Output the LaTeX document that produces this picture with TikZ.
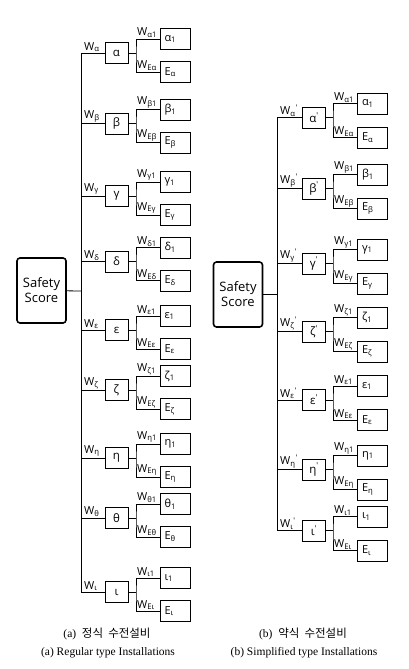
\documentclass[tikz,border=0pt]{standalone}
\usepackage{fontspec}
\setmainfont{Liberation Serif}
\newfontfamily\diagfont{Open Sans}
\newfontfamily\krfont{Noto Sans CJK KR}
\usetikzlibrary{positioning}

\begin{document}
\begin{tikzpicture}[x=1pt, y=-1pt, line width=0.8pt,
	mainbox/.style={rectangle,draw,line width=1pt,minimum width=23,minimum height=21,inner sep=0pt,font=\diagfont\fontsize{11.5}{13}\selectfont},
	subbox/.style={rectangle,draw,line width=1pt,text width=21pt,inner xsep=4.5pt,inner ysep=0pt,minimum height=21,align=left,font=\diagfont\fontsize{11}{13}\selectfont},
	wlab/.style={anchor=south west,inner sep=0.8pt,font=\diagfont\fontsize{11}{13}\selectfont},
	scorebox/.style={rectangle,draw,rounded corners=3pt,line width=1.6pt,minimum width=49,minimum height=65,align=center,inner sep=0pt,font=\diagfont\fontsize{13}{15}\selectfont},
	capt/.style={font=\fontsize{11.5}{13}\selectfont}]
		\useasboundingbox (0,0) rectangle (408,669);

		% (a) regular type
		\node[scorebox] (ssa) at (41.5,290.5) {Safety\\Score};
		\coordinate (tra) at (81,291);
		\foreach \n/\g/\y in {1/α/53, 2/β/123.5, 3/γ/196, 4/δ/261.5, 5/ε/330, 6/ζ/390, 7/η/458, 8/θ/518, 9/ι/592} {
			\node[mainbox] (a\n) at (116.5,\y) {\g};
			\node[subbox] (a\n-t) at (175,\y-14) {\g\textsubscript{1}};
			\node[subbox] (a\n-e) at (175,\y+19) {E\textsubscript{\g}};
			\coordinate (a\n-j) at (136,\y);
			\draw (tra |- a\n) -- (a\n.west);
			\draw (a\n.east) -- (a\n-j);
			\draw (a\n-t.west) -| (a\n-j) |- (a\n-e.west);
			\node[wlab,xshift=2] (a\n-w) at (tra |- a\n) {W\textsubscript{\g}};
			\node[wlab] (a\n-wt) at (a\n-j |- a\n-t) {W\textsubscript{\g1}};
			\node[wlab] (a\n-we) at (a\n-j |- a\n-e) {W\textsubscript{E\g}};
		}
		\draw (tra |- a1) -- (tra |- a9);
		\draw (ssa) -- (tra);

		% (b) simplified type
		\node[scorebox] (ssb) at (238,294.5) {Safety\\Score};
		\coordinate (trb) at (277,296);
		\foreach \n/\g/\y in {1/α/117.5, 2/β/188.5, 3/γ/263.5, 4/ζ/331.5, 5/ε/400, 6/η/469.5, 7/ι/530.5} {
			\node[mainbox] (b\n) at (314,\y) {\g\textsuperscript{'}};
			\node[subbox] (b\n-t) at (372.5,\y-14) {\g\textsubscript{1}};
			\node[subbox] (b\n-e) at (372.5,\y+20) {E\textsubscript{\g}};
			\coordinate (b\n-j) at (333,\y);
			\draw (trb |- b\n) -- (b\n.west);
			\draw (b\n.east) -- (b\n-j);
			\draw (b\n-t.west) -| (b\n-j) |- (b\n-e.west);
			\node[wlab,xshift=2] (b\n-w) at (trb |- b\n) {W\textsubscript{\g}\textsuperscript{'}};
			\node[wlab] (b\n-wt) at (b\n-j |- b\n-t) {W\textsubscript{\g1}};
			\node[wlab] (b\n-we) at (b\n-j |- b\n-e) {W\textsubscript{E\g}};
		}
		\draw (trb |- b1) -- (trb |- b7);
		\draw (ssb) -- (ssb -| trb);

		% captions
		\node[capt] (capa-kr) at (107,634) {(a)\ \ {\krfont 정식\ \ 수전설비}};
		\node[capt] (capa-en) at (108,653) {(a) Regular type Installations};
		\node[capt] (capb-kr) at (303,634) {(b)\ \ {\krfont 약식\ \ 수전설비}};
		\node[capt] (capb-en) at (304,653) {(b) Simplified type Installations};
\end{tikzpicture}
\end{document}
